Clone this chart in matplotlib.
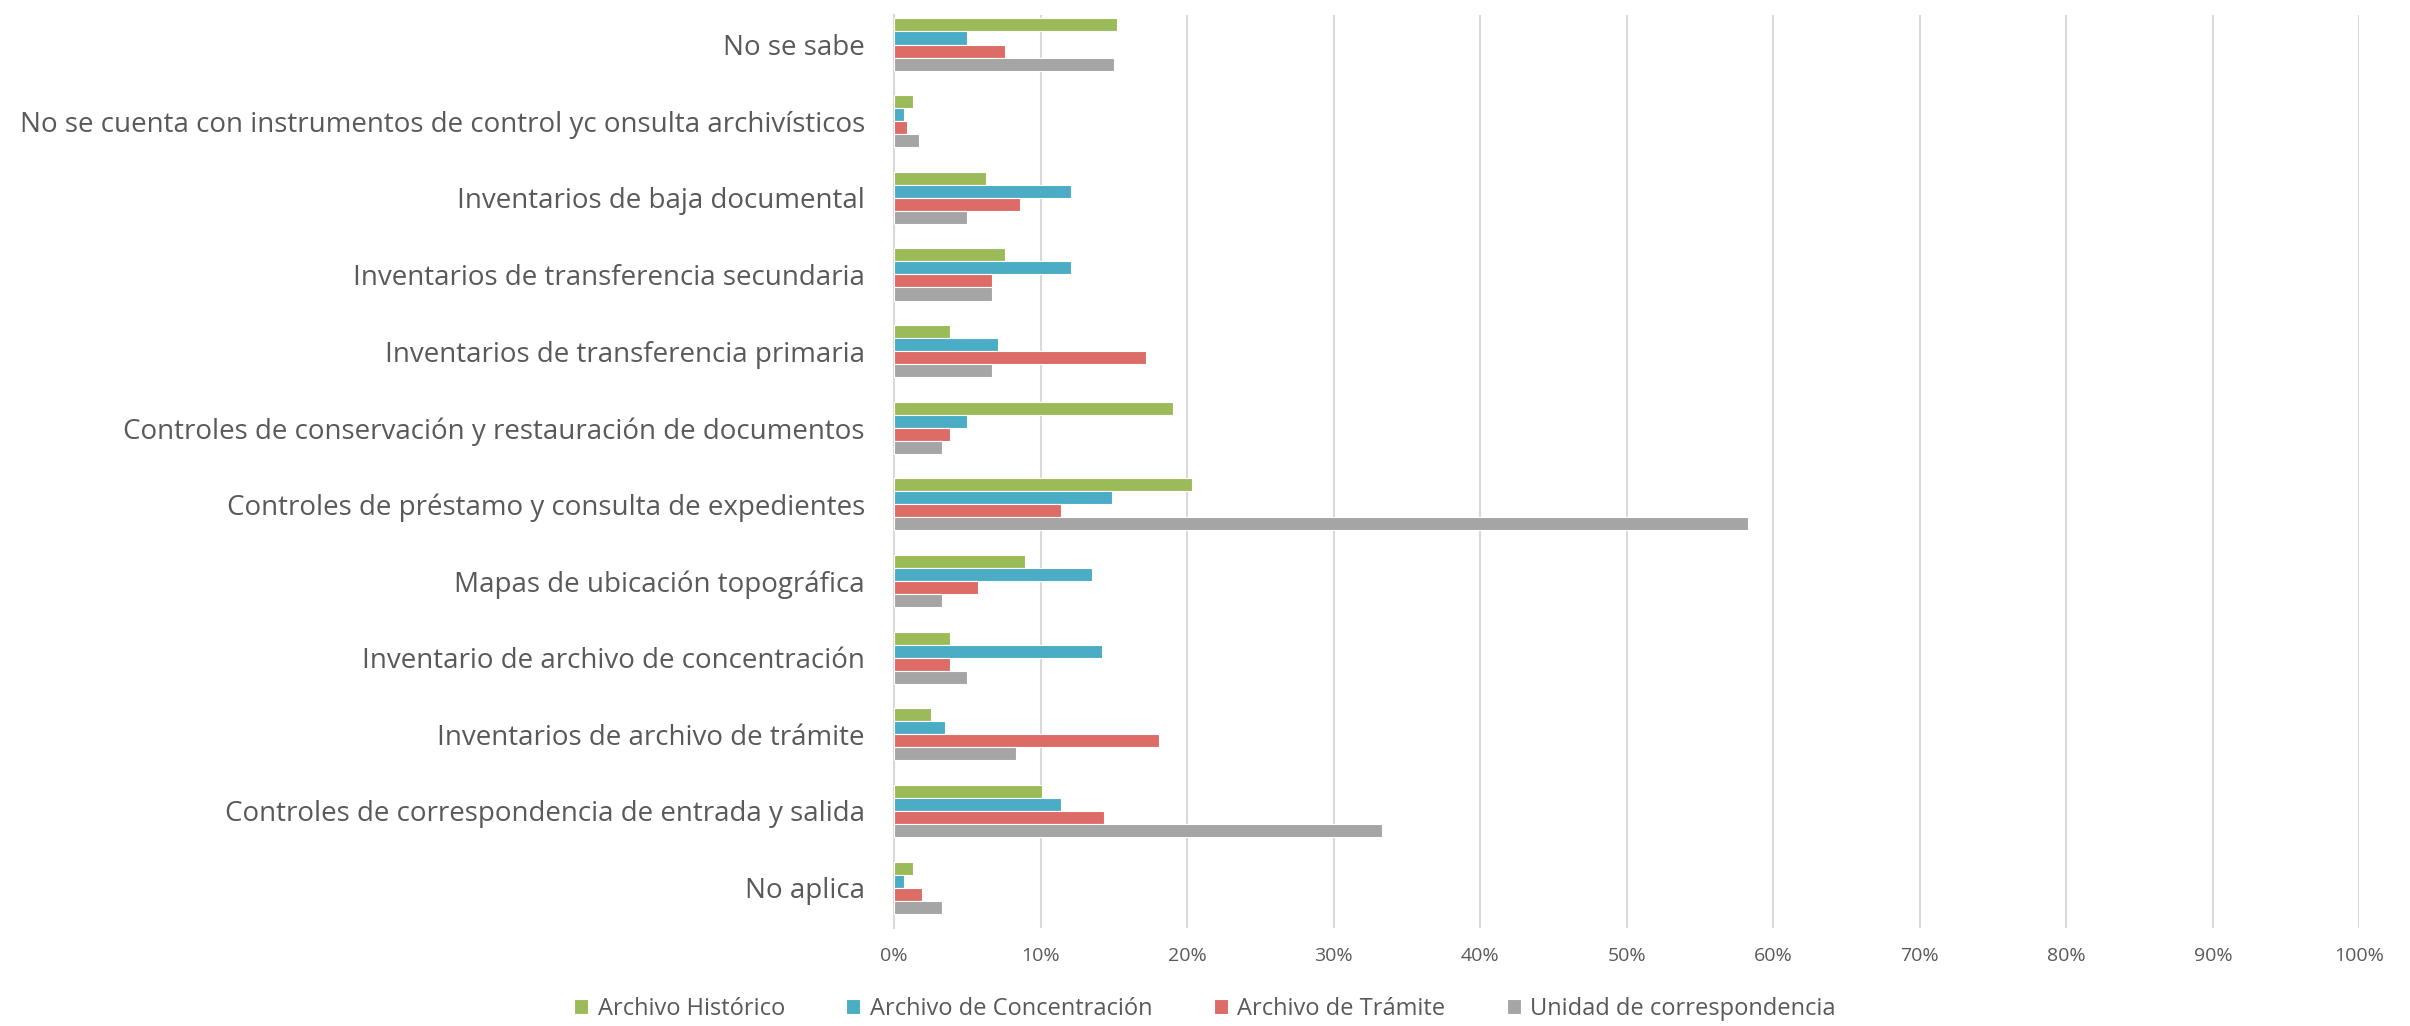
import numpy as np
import matplotlib.pyplot as plt
from matplotlib.ticker import PercentFormatter

categories = [
    "No aplica",
    "Controles de correspondencia de entrada y salida",
    "Inventarios de archivo de trámite",
    "Inventario de archivo de concentración",
    "Mapas de ubicación topográfica",
    "Controles de préstamo y consulta de expedientes",
    "Controles de conservación y restauración de documentos",
    "Inventarios de transferencia primaria",
    "Inventarios de transferencia secundaria",
    "Inventarios de baja documental",
    "No se cuenta con instrumentos de control yc onsulta archivísticos",
    "No se sabe",
]

series_names = ["Archivo Histórico", "Archivo de Concentración",
                "Archivo de Trámite", "Unidad de correspondencia"]

historico = [1.3, 10.1, 2.5, 3.8, 8.9, 20.3, 19.0, 3.8, 7.6, 6.3, 1.3, 15.2]
concentracion = [0.7, 11.4, 3.5, 14.2, 13.5, 14.9, 5.0, 7.1, 12.1, 12.1, 0.7, 5.0]
tramite = [1.9, 14.3, 18.1, 3.8, 5.7, 11.4, 3.8, 17.2, 6.7, 8.6, 0.9, 7.6]
correspondencia = [3.3, 33.3, 8.3, 5.0, 3.3, 58.3, 3.3, 6.7, 6.7, 5.0, 1.7, 15.0]

colors = ["#9BBB59", "#4BACC6", "#DD6B66", "#A5A5A5"]
text_color = "#595959"

plt.rcParams['font.family'] = ['Open Sans', 'DejaVu Sans']

fig = plt.figure(figsize=(24.1, 10.26), dpi=100)
ax = fig.add_axes([0.371, 0.096, 0.608, 0.889])

y = np.arange(len(categories))
h = 0.17
all_series = [historico, concentracion, tramite, correspondencia]
for i, (vals, name, c) in enumerate(zip(all_series, series_names, colors)):
    offset = (1.5 - i) * h
    ax.barh(y + offset, vals, height=h, color=c, label=name,
            edgecolor="white", linewidth=0.8, zorder=3)

ax.set_xlim(0, 100)
ax.set_ylim(-0.52, 11.38)
ax.set_xticks(np.arange(0, 101, 10))
ax.xaxis.set_major_formatter(PercentFormatter(decimals=0))
ax.set_yticks(y)
ax.set_yticklabels(categories, fontsize=20, color=text_color)
ax.tick_params(axis='x', labelsize=14, colors=text_color, length=0, pad=14)
ax.tick_params(axis='y', length=0, pad=21)

ax.grid(axis='x', color="#D9D9D9", linewidth=1.5, zorder=0)
for s in ["top", "right", "bottom"]:
    ax.spines[s].set_visible(False)
ax.spines["left"].set_color("#D9D9D9")
ax.spines["left"].set_linewidth(1.5)

leg = fig.legend(loc="lower center", bbox_to_anchor=(0.5, -0.016), ncol=4,
                 frameon=False, fontsize=17, handlelength=0.6, handleheight=0.6,
                 columnspacing=2.6, handletextpad=0.4)
for t in leg.get_texts():
    t.set_color(text_color)

fig.savefig("out.png", dpi=100, facecolor="white")
